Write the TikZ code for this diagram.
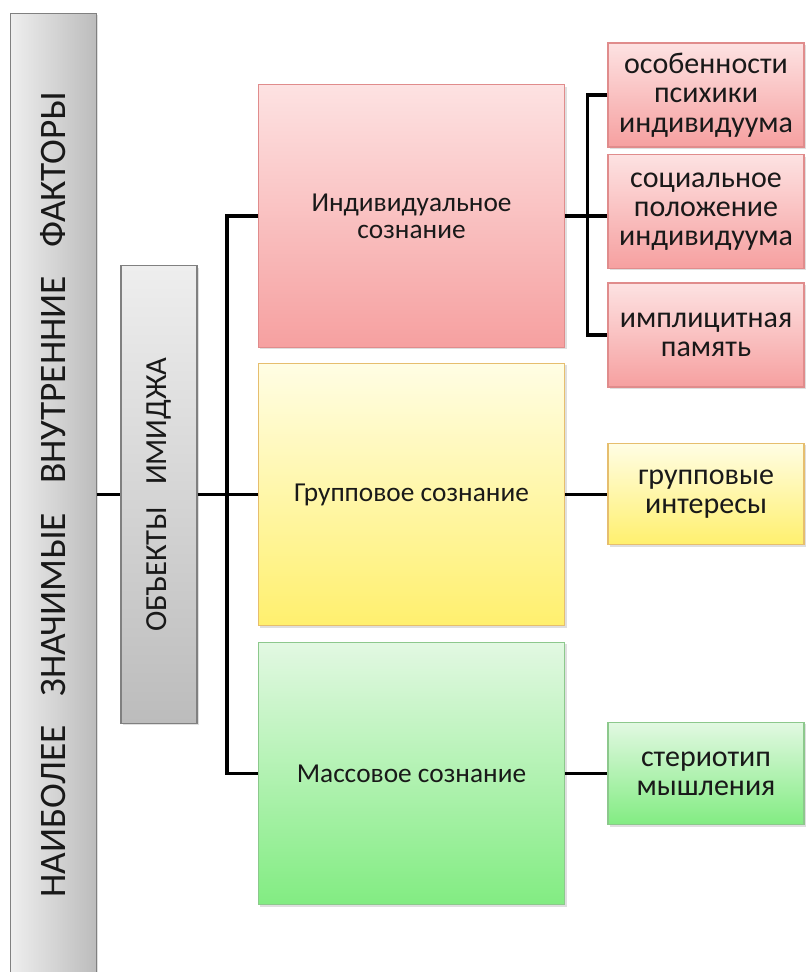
\documentclass[tikz,border=0pt]{standalone}
\usepackage{fontspec}
\usepackage{graphicx}
\setmainfont{Carlito}
\usetikzlibrary{shadows}
\definecolor{redtop}{RGB}{253,226,226}
\definecolor{redbot}{RGB}{246,160,160}
\definecolor{redline}{RGB}{224,140,140}
\definecolor{yeltop}{RGB}{255,253,228}
\definecolor{yelbot}{RGB}{255,240,110}
\definecolor{yelline}{RGB}{230,190,110}
\definecolor{grntop}{RGB}{226,248,226}
\definecolor{grnbot}{RGB}{130,236,130}
\definecolor{grnline}{RGB}{140,200,140}
\definecolor{grylight}{RGB}{238,238,238}
\definecolor{grydark}{RGB}{188,188,188}
\tikzset{
	box/.style = {draw, rectangle, align=center, text=black!90, line width=0.8pt,
		drop shadow = {opacity=0.25, shadow xshift=1.5pt, shadow yshift=-1.5pt}},
	bigbox/.style = {box, minimum width=230pt, minimum height=197pt, font=\fontsize{20.5}{20}\selectfont},
	smallbox/.style = {box, minimum width=147pt, font=\fontsize{22.5}{22}\selectfont},
	redbox/.style = {draw=redline, top color=redtop, bottom color=redbot},
	yelbox/.style = {draw=yelline, top color=yeltop, bottom color=yelbot},
	grnbox/.style = {draw=grnline, top color=grntop, bottom color=grnbot},
	link/.style = {line width=2.8pt, line join=miter}
}
\begin{document}
\begin{tikzpicture}[x=0.75pt, y=-0.75pt]
	\useasboundingbox[fill=white] (0,0) rectangle (806,972);
	\node[box, draw=gray, left color=grylight, right color=grydark,
		minimum height=722pt, minimum width=64pt, font=\fontsize{28}{28}\selectfont]
		(fac) at (53.5,494.5) {\rotatebox{90}{НАИБОЛЕЕ\hspace{0.55em} ЗНАЧИМЫЕ\hspace{0.55em} ВНУТРЕННИЕ\hspace{0.55em} ФАКТОРЫ}};
	\node[box, draw=gray, top color=grylight, bottom color=grydark,
		minimum height=343pt, minimum width=57pt, font=\fontsize{23}{23}\selectfont]
		(obj) at (159,494.5) {\rotatebox{90}{ОБЪЕКТЫ\hspace{0.5em} ИМИДЖА}};

	\node[bigbox, redbox] (ind) at (411.5,216) {Индивидуальное\\сознание};
	\node[bigbox, yelbox] (grp) at (411.5,494.5) {Групповое сознание};
	\node[bigbox, grnbox] (mass) at (411.5,773.5) {Массовое сознание};

	\node[smallbox, redbox, minimum height=78pt] (psy) at (706,95) {особенности\\психики\\индивидуума};
	\node[smallbox, redbox, minimum height=85pt] (soc) at (706,211.5) {социальное\\положение\\индивидуума};
	\node[smallbox, redbox, minimum height=78pt] (mem) at (706,335) {имплицитная\\память};
	\node[smallbox, yelbox, minimum height=76pt] (gint) at (706,494) {групповые\\интересы};
	\node[smallbox, grnbox, minimum height=77pt] (ster) at (706,773.5) {стериотип\\мышления};

	\coordinate (trunk) at (227,494.5);
	\draw[link] (fac) -- (obj);
	\draw[link] (obj) -- (grp);
	\draw[link] (ind.west) -- (ind.west -| trunk) |- (mass.west);
	\draw[link] (ind.east) -- (ind.east -| soc.west);
	\draw[link] (psy.west) -- ++(-20,0) |- (mem.west);
	\draw[link] (grp.east) -- (grp.east -| gint.west);
	\draw[link] (mass.east) -- (mass.east -| ster.west);
\end{tikzpicture}
\end{document}
